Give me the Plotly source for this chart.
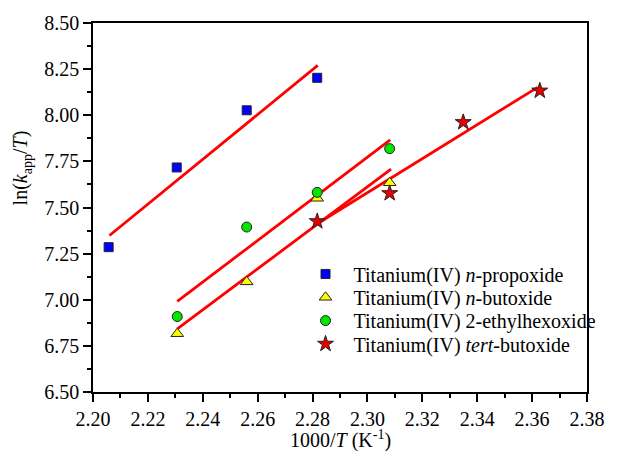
import plotly.graph_objects as go

# Data
x_prop = [2.2057, 2.2305, 2.2560, 2.2817]
y_prop = [7.285, 7.717, 8.027, 8.203]
x_nbut = [2.2307, 2.2560, 2.2817, 2.3081]
y_nbut = [6.816, 7.097, 7.550, 7.634]
x_ethx = [2.2307, 2.2560, 2.2817, 2.3081]
y_ethx = [6.909, 7.394, 7.582, 7.819]
x_tbut = [2.2817, 2.3081, 2.3349, 2.3628]
y_tbut = [7.425, 7.577, 7.962, 8.133]

# Linear fit lines (endpoints)
fit_prop_x = [2.2060, 2.2819]
fit_prop_y = [7.348, 8.270]
fit_nbut_x = [2.2307, 2.3086]
fit_nbut_y = [6.842, 7.708]
fit_ethx_x = [2.2307, 2.3083]
fit_ethx_y = [6.991, 7.867]
fit_tbut_x = [2.2817, 2.3620]
fit_tbut_y = [7.412, 8.151]

names = ["Titanium(IV) <i>n</i>-propoxide", "Titanium(IV) <i>n</i>-butoxide",
         "Titanium(IV) 2-ethylhexoxide", "Titanium(IV) <i>tert</i>-butoxide"]

FONT = "Liberation Serif"
fig = go.Figure()

for fx, fy in [(fit_prop_x, fit_prop_y), (fit_nbut_x, fit_nbut_y),
               (fit_ethx_x, fit_ethx_y), (fit_tbut_x, fit_tbut_y)]:
    fig.add_trace(go.Scatter(x=fx, y=fy, mode="lines", showlegend=False,
                             line=dict(color="#ff0000", width=2.8)))

series = [
    (x_prop, y_prop, "square", "#0000ff", 9),
    (x_nbut, y_nbut, "triangle-up", "#ffff00", 11),
    (x_ethx, y_ethx, "circle", "#00e600", 10),
    (x_tbut, y_tbut, "star", "#e60000", 12),
]
legend_ids = ["legend", "legend2", "legend3", "legend4"]
for (xs, ys, sym, col, sz), nm, lg in zip(series, names, legend_ids):
    fig.add_trace(go.Scatter(x=xs, y=ys, mode="markers", name=nm, legend=lg,
                             marker=dict(symbol=sym, color=col, size=sz,
                                         line=dict(color="#222222", width=1))))

# legend rows (pixel centres 273, 296.5, 320, 343.5 -> paper coords)
row_y = [0.3199, 0.2567, 0.1935, 0.1304]
leg_common = dict(x=0.414, xanchor="left", yanchor="middle", bgcolor="rgba(0,0,0,0)",
                  font=dict(size=20, family=FONT), itemsizing="trace", itemwidth=46)

axis_common = dict(showgrid=False, zeroline=False, showline=True, linecolor="black",
                   linewidth=1.6, mirror=True, ticks="outside", ticklen=8, tickwidth=1.5,
                   tickcolor="black", tickformat=".2f", tickfont=dict(size=20, family=FONT))

fig.update_layout(
    width=617, height=451,
    margin=dict(l=93, r=18, t=20, b=59),
    paper_bgcolor="white", plot_bgcolor="white",
    font=dict(family=FONT, size=20, color="black"),
    legend=dict(y=row_y[0], **leg_common),
    legend2=dict(y=row_y[1], **leg_common),
    legend3=dict(y=row_y[2], **leg_common),
    legend4=dict(y=row_y[3], **leg_common),
    xaxis=dict(range=[2.20, 2.38], dtick=0.02, tick0=2.20,
               minor=dict(ticks="outside", dtick=0.01, ticklen=4, tickwidth=1.5,
                          tickcolor="black"), **axis_common),
    yaxis=dict(range=[6.50, 8.50], dtick=0.25, tick0=6.50,
               minor=dict(ticks="outside", dtick=0.125, ticklen=4, tickwidth=1.5,
                          tickcolor="black"), **axis_common),
    # overlay axes that draw the inner half of the crossing major ticks
    xaxis2=dict(range=[2.20, 2.38], dtick=0.02, tick0=2.20, overlaying="x", anchor="y",
                side="bottom", ticks="inside", ticklen=5, tickwidth=1.5, tickcolor="black",
                showticklabels=False, showline=False, showgrid=False, zeroline=False),
    yaxis2=dict(range=[6.50, 8.50], dtick=0.25, tick0=6.50, overlaying="y", anchor="x",
                side="left", ticks="inside", ticklen=5, tickwidth=1.5, tickcolor="black",
                showticklabels=False, showline=False, showgrid=False, zeroline=False),
)

fig.add_annotation(text="ln(<i>k</i><sub>app</sub>/<i>T</i>)", xref="paper", yref="paper",
                   x=-0.145, y=0.607, textangle=-90, showarrow=False,
                   xanchor="center", yanchor="middle", font=dict(size=20, family=FONT))
fig.add_annotation(text="1000/<i>T</i> (K<sup>-1</sup>)", xref="paper", yref="paper",
                   x=0.5, y=-0.129, showarrow=False,
                   xanchor="center", yanchor="middle", font=dict(size=20, family=FONT))

fig.write_html("out.html")
